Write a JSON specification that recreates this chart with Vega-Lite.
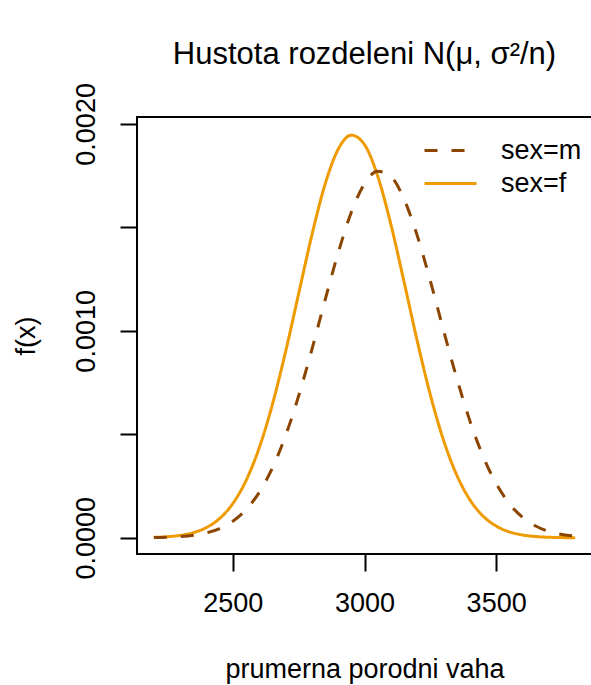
{
  "$schema": "https://vega.github.io/schema/vega-lite/v6.json",
  "autosize": "none",
  "width": 455,
  "height": 437,
  "padding": {"left": 137, "top": 117, "right": 0, "bottom": 131},
  "background": "white",
  "title": {"text": "Hustota rozdeleni N(μ, σ²/n)", "fontSize": 31, "fontWeight": "normal", "font": "Liberation Sans", "color": "black", "offset": 12, "anchor": "middle"},
  "datasets": {
    "dens": [
      {"x": 2200, "sex": "sex=f", "y": 0.0000022}, {"x": 2250, "sex": "sex=f", "y": 0.0000053}, {"x": 2300, "sex": "sex=f", "y": 0.0000118}, {"x": 2350, "sex": "sex=f", "y": 0.000025}, {"x": 2400, "sex": "sex=f", "y": 0.0000498}, {"x": 2450, "sex": "sex=f", "y": 0.0000936}, {"x": 2500, "sex": "sex=f", "y": 0.0001658}, {"x": 2550, "sex": "sex=f", "y": 0.0002763}, {"x": 2600, "sex": "sex=f", "y": 0.0004342}, {"x": 2650, "sex": "sex=f", "y": 0.0006434}, {"x": 2700, "sex": "sex=f", "y": 0.0008975}, {"x": 2750, "sex": "sex=f", "y": 0.0011803}, {"x": 2800, "sex": "sex=f", "y": 0.001462}, {"x": 2850, "sex": "sex=f", "y": 0.001707}, {"x": 2900, "sex": "sex=f", "y": 0.0018771}, {"x": 2950, "sex": "sex=f", "y": 0.0019454}, {"x": 3000, "sex": "sex=f", "y": 0.0018997}, {"x": 3050, "sex": "sex=f", "y": 0.0017479}, {"x": 3100, "sex": "sex=f", "y": 0.0015154}, {"x": 3150, "sex": "sex=f", "y": 0.0012379}, {"x": 3200, "sex": "sex=f", "y": 0.0009528}, {"x": 3250, "sex": "sex=f", "y": 0.000691}, {"x": 3300, "sex": "sex=f", "y": 0.0004721}, {"x": 3350, "sex": "sex=f", "y": 0.000304}, {"x": 3400, "sex": "sex=f", "y": 0.0001845}, {"x": 3450, "sex": "sex=f", "y": 0.0001053}, {"x": 3500, "sex": "sex=f", "y": 0.0000568}, {"x": 3550, "sex": "sex=f", "y": 0.0000288}, {"x": 3600, "sex": "sex=f", "y": 0.0000138}, {"x": 3650, "sex": "sex=f", "y": 0.0000062}, {"x": 3700, "sex": "sex=f", "y": 0.0000026}, {"x": 3750, "sex": "sex=f", "y": 0.0000011}, {"x": 3800, "sex": "sex=f", "y": 0.0000004},
      {"x": 2200, "sex": "sex=m", "y": 0.0000012}, {"x": 2250, "sex": "sex=m", "y": 0.0000027}, {"x": 2300, "sex": "sex=m", "y": 0.0000059}, {"x": 2350, "sex": "sex=m", "y": 0.0000122}, {"x": 2400, "sex": "sex=m", "y": 0.000024}, {"x": 2450, "sex": "sex=m", "y": 0.0000449}, {"x": 2500, "sex": "sex=m", "y": 0.0000801}, {"x": 2550, "sex": "sex=m", "y": 0.0001358}, {"x": 2600, "sex": "sex=m", "y": 0.0002193}, {"x": 2650, "sex": "sex=m", "y": 0.000337}, {"x": 2700, "sex": "sex=m", "y": 0.0004929}, {"x": 2750, "sex": "sex=m", "y": 0.0006863}, {"x": 2800, "sex": "sex=m", "y": 0.0009092}, {"x": 2850, "sex": "sex=m", "y": 0.001147}, {"x": 2900, "sex": "sex=m", "y": 0.0013771}, {"x": 2950, "sex": "sex=m", "y": 0.0015734}, {"x": 3000, "sex": "sex=m", "y": 0.0017109}, {"x": 3050, "sex": "sex=m", "y": 0.0017712}, {"x": 3100, "sex": "sex=m", "y": 0.0017452}, {"x": 3150, "sex": "sex=m", "y": 0.0016367}, {"x": 3200, "sex": "sex=m", "y": 0.0014611}, {"x": 3250, "sex": "sex=m", "y": 0.0012413}, {"x": 3300, "sex": "sex=m", "y": 0.0010037}, {"x": 3350, "sex": "sex=m", "y": 0.0007727}, {"x": 3400, "sex": "sex=m", "y": 0.0005661}, {"x": 3450, "sex": "sex=m", "y": 0.0003948}, {"x": 3500, "sex": "sex=m", "y": 0.0002621}, {"x": 3550, "sex": "sex=m", "y": 0.0001656}, {"x": 3600, "sex": "sex=m", "y": 0.0000995}, {"x": 3650, "sex": "sex=m", "y": 0.0000569}, {"x": 3700, "sex": "sex=m", "y": 0.000031}, {"x": 3750, "sex": "sex=m", "y": 0.0000161}, {"x": 3800, "sex": "sex=m", "y": 0.0000079}
    ]
  },
  "data": {"name": "dens"},
  "mark": {"type": "line", "strokeWidth": 3, "interpolate": "monotone", "clip": true},
  "encoding": {
    "x": {
      "field": "x", "type": "quantitative",
      "scale": {"domain": [2136, 3864], "nice": false, "zero": false},
      "axis": {"values": [2500, 3000, 3500], "title": "prumerna porodni vaha", "grid": false, "domain": false, "tickSize": 17, "tickWidth": 2, "tickColor": "black", "labelFontSize": 27, "labelPadding": 19, "labelColor": "black", "labelFont": "Liberation Sans", "titleFont": "Liberation Sans", "titleFontSize": 27, "titleFontWeight": "normal", "titleColor": "black", "titlePadding": 40, "format": "d"}
    },
    "y": {
      "field": "y", "type": "quantitative",
      "scale": {"domain": [-0.0000782, 0.0020332], "nice": false, "zero": false},
      "axis": {"values": [0, 0.0005, 0.001, 0.0015, 0.002], "labelExpr": "(abs(datum.value) < 1e-9 || abs(datum.value - 0.001) < 1e-9 || abs(datum.value - 0.002) < 1e-9) ? format(datum.value, '.4f') : ''", "title": "f(x)", "grid": false, "domain": false, "tickSize": 17, "tickWidth": 2, "tickColor": "black", "labelAngle": -90, "labelAlign": "center", "labelBaseline": "bottom", "labelFontSize": 27, "labelPadding": 20, "labelColor": "black", "labelFont": "Liberation Sans", "titleFont": "Liberation Sans", "titleFontSize": 27, "titleFontWeight": "normal", "titleColor": "black", "titlePadding": 32}
    },
    "color": {
      "field": "sex", "type": "nominal",
      "scale": {"domain": ["sex=m", "sex=f"], "range": ["#8B4500", "#EE9A00"]},
      "legend": {"title": null, "orient": "none", "legendX": 299, "legendY": 19, "symbolType": "M-2,0H2", "symbolSize": 676, "symbolStrokeWidth": 3, "labelFontSize": 27, "labelFont": "Liberation Sans", "labelColor": "black", "labelOffset": 36, "rowPadding": 5}
    },
    "strokeDash": {
      "field": "sex", "type": "nominal",
      "scale": {"domain": ["sex=m", "sex=f"], "range": [[13, 14], [1, 0]]},
      "legend": {"title": null, "orient": "none", "legendX": 299, "legendY": 19, "symbolType": "M-2,0H2", "symbolSize": 676, "symbolStrokeWidth": 3, "labelFontSize": 27, "labelFont": "Liberation Sans", "labelColor": "black", "labelOffset": 36, "rowPadding": 5}
    }
  },
  "config": {
    "view": {"stroke": "black", "strokeWidth": 2},
    "font": "Liberation Sans"
  }
}
